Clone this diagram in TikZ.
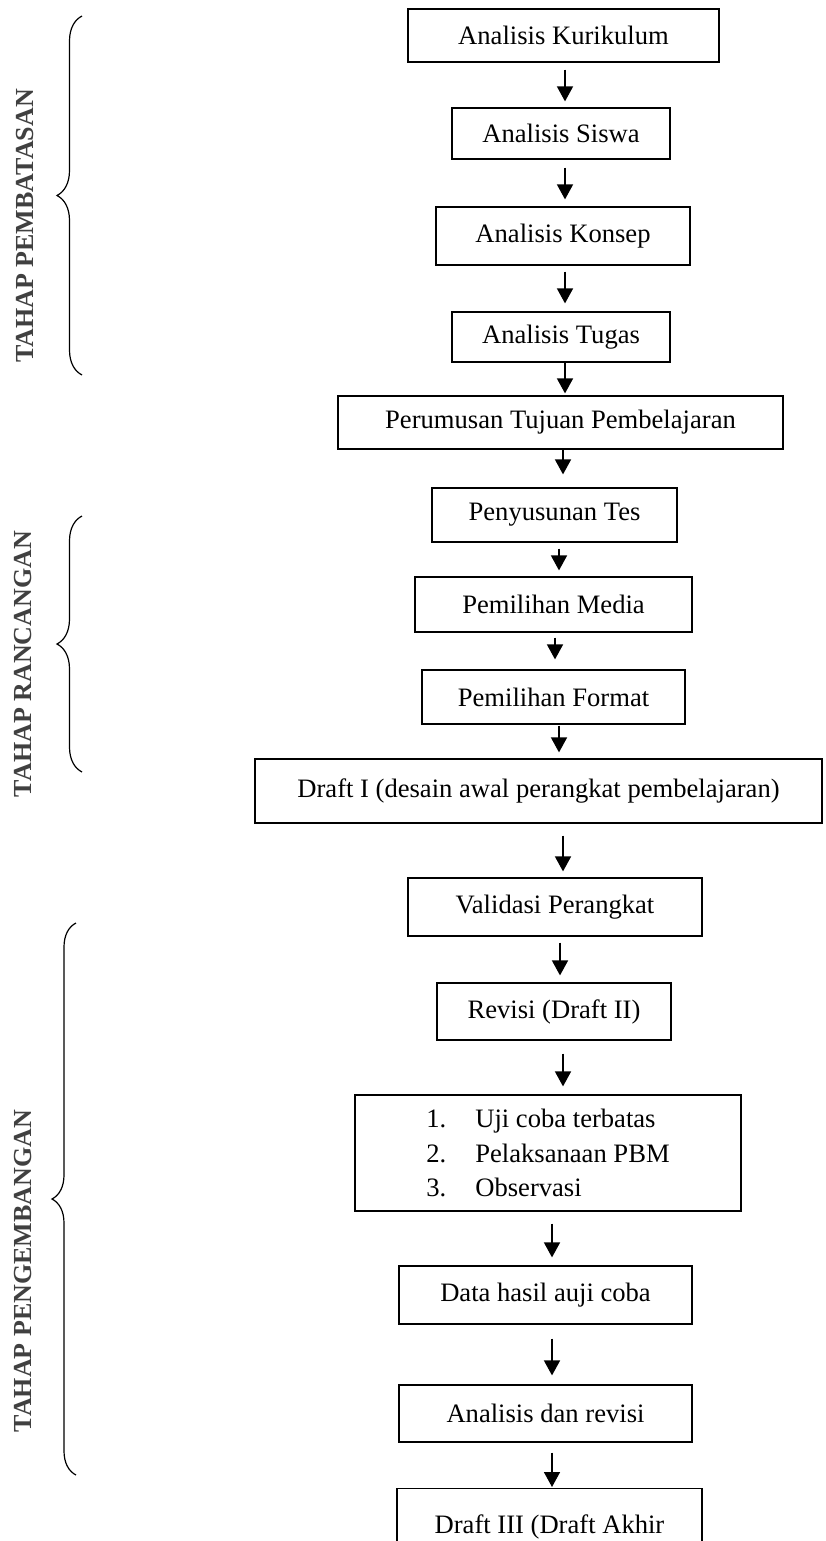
\documentclass[tikz,border=0pt]{standalone}
\usepackage{fontspec}
\setmainfont{Liberation Serif}
\usetikzlibrary{arrows.meta,decorations.pathreplacing}
\tikzset{
  box/.style={draw, line width=1.2pt, inner sep=0pt, font=\fontsize{26.6}{34.5}\selectfont},
  flow/.style={line width=1.6pt, -{Triangle[length=15pt,width=16pt]}},
  brace/.style={decorate, decoration={brace, amplitude=25pt}, line width=1.2pt},
  phase/.style={rotate=90, text=black!75, font=\fontsize{26}{30}\selectfont\bfseries}
}

\begin{document}
\begin{tikzpicture}[x=1pt,y=-1pt]
    \useasboundingbox (0,0) rectangle (825,1541);
    \clip (0,0) rectangle (825,1541);
      \node[box, minimum width=311pt, minimum height=53pt] (kur) at (563.5,35.5) {Analisis Kurikulum};
      \node[box, minimum width=218pt, minimum height=51pt] (sis) at (561,133.5) {Analisis Siswa};
      \node[box, minimum width=254pt, minimum height=58pt] (kon) at (563,236) {Analisis Konsep};
      \node[box, minimum width=218pt, minimum height=50pt] (tug) at (561,337) {Analisis Tugas};
      \node[box, minimum width=445pt, minimum height=53pt] (per) at (560.5,422.5) {Perumusan Tujuan Pembelajaran};
      \node[box, minimum width=245pt, minimum height=54pt] (tes) at (554.5,515) {Penyusunan Tes};
      \node[box, minimum width=277pt, minimum height=55pt] (med) at (553.5,604.5) {Pemilihan Media};
      \node[box, minimum width=263pt, minimum height=54pt] (fmt) at (553.5,697) {Pemilihan Format};
      \node[box, minimum width=567pt, minimum height=64pt] (dra) at (538.5,791) {Draft I (desain awal perangkat pembelajaran)};
      \node[box, minimum width=294pt, minimum height=58pt] (val) at (555,907) {Validasi Perangkat};
      \node[box, minimum width=234pt, minimum height=57pt] (rev) at (554,1011.5) {Revisi (Draft II)};
      \node[box, minimum width=386pt, minimum height=116pt, align=left] (uji) at (548,1153)
        {\makebox[49pt][l]{1.}Uji coba terbatas\\ \makebox[49pt][l]{2.}Pelaksanaan PBM\\ \makebox[49pt][l]{3.}Observasi};
      \node[box, minimum width=293pt, minimum height=58pt] (dat) at (545.5,1295) {Data hasil auji coba};
      \node[box, minimum width=293pt, minimum height=57pt] (ana) at (545.5,1413.5) {Analisis dan revisi};
      \node[box, anchor=north, minimum width=305pt, text height=45pt, text depth=40pt] (drc) at (549.5,1488) {Draft III (Draft Akhir};
      \foreach \a/\b/\x/\s/\e in {kur/sis/565/7/6, sis/kon/565/8/7, kon/tug/565/6/8, tug/per/565/0/2,
          per/tes/563/0/13, tes/med/559/6/6, med/fmt/555/5/10, fmt/dra/559/1/6, dra/val/563/12/6,
          val/rev/560/6/7, rev/uji/563/13/8, uji/dat/552/12/8, dat/ana/552/14/9, ana/drc/552/10/1}
        \draw[flow, shorten <=\s pt, shorten >=\e pt] (\a.south -| \x,0) -- (\b.north -| \x,0);
      \draw[brace] (82,375) -- (82,16);
      \draw[brace] (82,772) -- (82,516);
      \draw[brace, decoration={amplitude=24pt}] (76,1475) -- (76,923);
      \node[phase] (pembatasan) at (25,226) {TAHAP PEMBATASAN};
      \node[phase] (rancangan) at (23,664) {TAHAP RANCANGAN};
      \node[phase] (pengembangan) at (23,1271) {TAHAP PENGEMBANGAN};
\end{tikzpicture}
\end{document}
